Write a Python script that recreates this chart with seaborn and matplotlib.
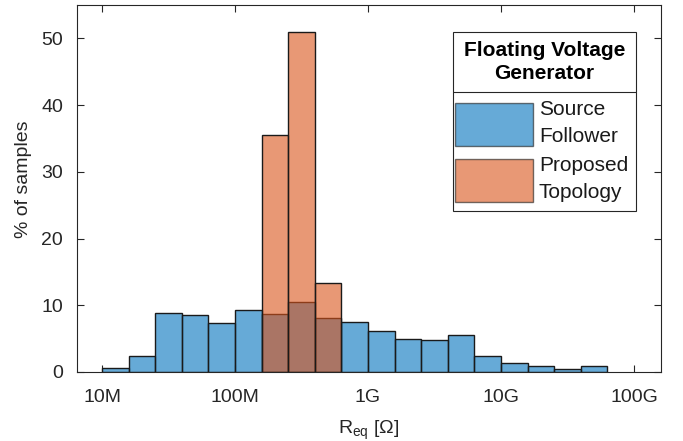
import numpy as np
import pandas as pd
import matplotlib
matplotlib.use("Agg")
import matplotlib.pyplot as plt
from matplotlib.patches import Patch, Rectangle
from matplotlib.lines import Line2D
from matplotlib.transforms import IdentityTransform
import seaborn as sns

# Bin edges in log10(R) (0.2 decade bins from 10M to ~63G)
bin_exponents = [7.0, 7.2, 7.4, 7.6, 7.8, 8.0, 8.2, 8.4, 8.6, 8.8, 9.0,
                 9.2, 9.4, 9.6, 9.8, 10.0, 10.2, 10.4, 10.6, 10.8]
source_follower = [0.55, 2.4, 8.8, 8.6, 7.4, 9.3, 8.7, 10.5, 8.1, 7.5,
                   6.2, 4.9, 4.8, 5.5, 2.4, 1.3, 0.95, 0.5, 0.9]
proposed_bins = [8.2, 8.4, 8.6, 8.8]
proposed_topology = [35.5, 50.9, 13.4]
tick_exponents = [7, 8, 9, 10, 11]
tick_labels = ["10M", "100M", "1G", "10G", "100G"]
series_names = ["Source\nFollower", "Proposed\nTopology"]
legend_title = "Floating Voltage\nGenerator"

blue = "#0072BD"
orange = "#D95319"
alpha = 0.6

sns.set_theme(style="ticks")
plt.rcParams["font.family"] = ["Liberation Sans", "DejaVu Sans"]

edges_sf = np.array(bin_exponents)
centers_sf = 10 ** ((edges_sf[:-1] + edges_sf[1:]) / 2)
edges_pt = np.array(proposed_bins)
centers_pt = 10 ** ((edges_pt[:-1] + edges_pt[1:]) / 2)

df_sf = pd.DataFrame({"R": centers_sf, "pct": source_follower})
df_pt = pd.DataFrame({"R": centers_pt, "pct": proposed_topology})

W, H = 683, 441
fig = plt.figure(figsize=(W / 100, H / 100), dpi=100)
ax = fig.add_axes([77 / W, 1 - 372 / H, (661 - 77) / W, (372 - 5) / H])

sns.histplot(data=df_sf, x="R", weights="pct", bins=list(bin_exponents), log_scale=True,
             color=blue, alpha=alpha, edgecolor="#1a1a1a", linewidth=1.0,
             stat="count", ax=ax)
sns.histplot(data=df_pt, x="R", weights="pct", bins=list(proposed_bins), log_scale=True,
             color=orange, alpha=alpha, edgecolor="#1a1a1a", linewidth=1.0,
             stat="count", ax=ax)

ax.set_xlim(10 ** (7 - 25 / 133), 10 ** (11 + 27 / 133))
ax.set_ylim(0, 55)
ax.set_xticks([10 ** e for e in tick_exponents])
ax.set_xticklabels(tick_labels)
ax.xaxis.set_minor_locator(matplotlib.ticker.NullLocator())
ax.set_yticks([0, 10, 20, 30, 40, 50])

tc = "#262626"
ax.tick_params(axis="both", which="major", direction="in", length=5,
               width=0.8, colors=tc, labelsize=14, top=True, right=True,
               labelcolor=tc)
ax.tick_params(axis="x", pad=12)
ax.tick_params(axis="y", pad=10)
for sp in ax.spines.values():
    sp.set_visible(True)
    sp.set_color(tc)
    sp.set_linewidth(0.8)

ax.set_xlabel("R$_{\\mathregular{eq}}$ [Ω]", fontsize=14, color=tc, labelpad=9)
ax.set_ylabel("% of samples", fontsize=14, color=tc)
ax.yaxis.set_label_coords((32 - 77) / 584, (372 - 179) / 367)

# ---- legend box (frame in pixel coordinates, top-left origin) ----
FX0, FX1, FY0, FY1, SEP = 453, 636, 32, 211, 92
frame = Rectangle((FX0, H - FY1), FX1 - FX0, FY1 - FY0, transform=IdentityTransform(),
                  facecolor="white", edgecolor=tc, linewidth=0.8, zorder=5,
                  clip_on=False)
ax.add_artist(frame)
ax.add_artist(Line2D([FX0, FX1], [H - SEP, H - SEP], transform=IdentityTransform(),
                     color=tc, linewidth=0.8, zorder=5.5, clip_on=False))
ax.text((FX0 + FX1) / 2, H - (FY0 + SEP) / 2, legend_title, transform=IdentityTransform(),
        ha="center", va="center", multialignment="center", fontsize=15,
        fontweight="bold", color="black", linespacing=1.32, zorder=6)

handles = [Patch(facecolor=blue, alpha=alpha, edgecolor="#1a1a1a", linewidth=1.0),
           Patch(facecolor=orange, alpha=alpha, edgecolor="#1a1a1a", linewidth=1.0)]


def make_legend(top_px):
    lg = ax.legend(handles, series_names, loc="upper left",
                   bbox_to_anchor=(FX0 + 1.5, H - top_px),
                   bbox_transform=IdentityTransform(),
                   borderaxespad=0, frameon=False,
                   prop={"size": 15}, handlelength=3.75, handleheight=2.8,
                   handletextpad=0.3, labelspacing=0.5, borderpad=0)
    lg.set_zorder(6)
    for t in lg.get_texts():
        t.set_linespacing(1.5)
        t.set_color("#1a1a1a")
    return lg


target_top = 103
leg = make_legend(target_top)
fig.canvas.draw()
r = fig.canvas.get_renderer()
htop = H - leg.legend_handles[0].get_window_extent(r).y1
leg = make_legend(target_top - (htop - target_top))

fig.savefig("out.png", dpi=100)
